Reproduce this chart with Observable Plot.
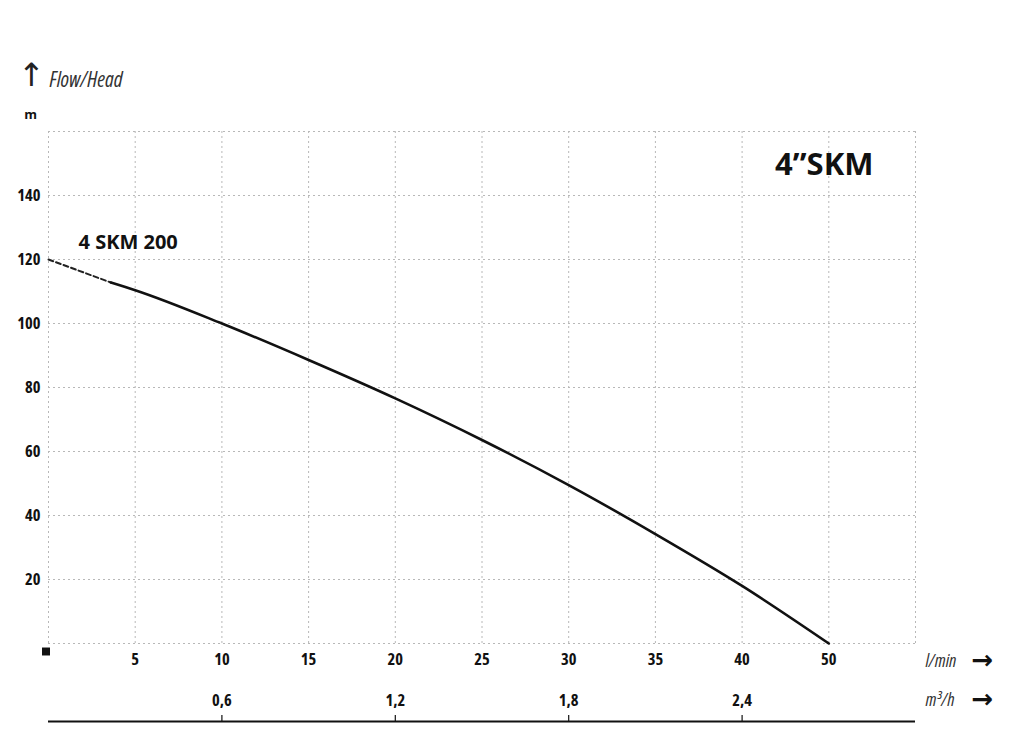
<!DOCTYPE html>
<html>
<head>
<meta charset="utf-8">
<script src="https://cdn.jsdelivr.net/npm/d3@7"></script>
<script src="https://cdn.jsdelivr.net/npm/@observablehq/plot@0.6"></script>
<style>
  html, body { margin: 0; padding: 0; background: #fff; }
  g[aria-description="narrow"] text,
  g[aria-label$="tick label"] text { font-stretch: condensed; }
</style>
</head>
<body>
<div id="chart"></div>
<script>
// Grid positions (l/min scale units)
const xGrid = [0, 5, 10, 15, 20, 25, 30, 35, 40, 45, 50];
const yGrid = [0, 20, 40, 60, 80, 100, 120, 140, 160];
// Axis ticks and labels
const yTicks = [20, 40, 60, 80, 100, 120, 140];
const xTickPos = [5, 10, 15, 20, 25, 30, 35, 40, 45];
const xTickLabels = ["5", "10", "15", "20", "25", "30", "35", "40", "50"];
const m3TickPos = [10, 20, 30, 40];
const m3TickLabels = ["0,6", "1,2", "1,8", "2,4"];

// Curve 4 SKM 200 (flow in grid units, head in m)
const dashedFlow = [0, 3.6];
const dashedHead = [120, 112.8];
const curveFlow = [3.6, 5, 10, 15, 20, 25, 30, 35, 40, 45];
const curveHead = [112.8, 110.4, 100, 88.6, 76.6, 63.6, 49.5, 34.2, 18, 0];
const curveName = "4 SKM 200";
const chartTitle = "4\u201DSKM";

const dashed = dashedFlow.map((x, i) => ({x, y: dashedHead[i]}));
const solid = curveFlow.map((x, i) => ({x, y: curveHead[i]}));

const narrowFont = "'Open Sans', sans-serif";
const gridStyle = {stroke: "#b8b8b8", strokeWidth: 1, strokeDasharray: "2,3"};

const chart = Plot.plot({
  width: 1024,
  height: 745,
  marginLeft: 48,
  marginRight: 109,
  marginTop: 131,
  marginBottom: 102,
  style: {background: "#fff", color: "#111"},
  x: {domain: [0, 50], label: null},
  y: {domain: [0, 160], label: null},
  marks: [
    Plot.ruleX(xGrid, {x: d => d, ...gridStyle}),
    Plot.ruleY(yGrid, {y: d => d, ...gridStyle}),
    Plot.axisY(yTicks, {tickSize: 0, tickPadding: 8, fontSize: 16.5, fontWeight: "bold", fontFamily: narrowFont, label: null}),
    Plot.axisX(xTickPos, {tickSize: 0, tickPadding: 10, fontSize: 16.5, fontWeight: "bold", fontFamily: narrowFont, label: null,
      tickFormat: d => xTickLabels[xTickPos.indexOf(d)]}),
    // second axis (m3/h)
    Plot.text(m3TickPos, {x: d => d, frameAnchor: "bottom", lineAnchor: "middle", dy: 57,
      text: d => m3TickLabels[m3TickPos.indexOf(d)], ariaDescription: "narrow",
      fontSize: 16.5, fontWeight: "bold", fontFamily: narrowFont, fill: "#111"}),
    Plot.tickX(m3TickPos, {x: d => d, dy: 78, insetTop: 745 - 131 - 102 - 6, stroke: "#111", strokeWidth: 1.2}),
    Plot.ruleY([0], {y: d => d, dy: 78, stroke: "#111", strokeWidth: 2}),
    // origin square
    Plot.dot([0], {x: d => d, frameAnchor: "bottom", dx: -2.5, dy: 8, symbol: "square", r: 4.5, fill: "#111", stroke: null}),
    // curve
    Plot.line(dashed, {x: "x", y: "y", stroke: "#222", strokeWidth: 2, strokeDasharray: "5,3"}),
    Plot.line(solid, {x: "x", y: "y", stroke: "#111", strokeWidth: 2.6, curve: "monotone-x"}),
    Plot.text([dashed[0]], {x: "x", y: "y", text: () => curveName, dx: 30, dy: -17, textAnchor: "start",
      fontSize: 20, fontWeight: "bold", fontFamily: "'Open Sans', sans-serif", fill: "#111"}),
    // title
    Plot.text([chartTitle], {text: d => d, frameAnchor: "top-right", lineAnchor: "middle", dx: -42, dy: 34, textAnchor: "end",
      fontSize: 31, fontWeight: "bold", fontFamily: "'Open Sans', sans-serif", fill: "#111"}),
    // Flow/Head heading
    Plot.text(["Flow/Head"], {text: d => d, frameAnchor: "top-left", lineAnchor: "middle", dx: 1, dy: -51, textAnchor: "start",
      ariaDescription: "narrow", fontSize: 21, fontStyle: "italic", fontFamily: narrowFont, fill: "#333"}),
    Plot.text(["\u2191"], {text: d => d, frameAnchor: "top-left", lineAnchor: "middle", dx: -17, dy: -56, textAnchor: "middle",
      fontSize: 32, fontFamily: "'DejaVu Sans', sans-serif", fill: "#222"}),
    Plot.text(["m"], {text: d => d, frameAnchor: "top-left", lineAnchor: "middle", dx: -18, dy: -17, textAnchor: "middle",
      fontSize: 13, fontWeight: "bold", fontFamily: "'Open Sans', sans-serif", fill: "#111"}),
    // unit labels right
    Plot.text(["l/min"], {text: d => d, frameAnchor: "bottom-right", lineAnchor: "middle", dx: 10, dy: 18, textAnchor: "start",
      ariaDescription: "narrow", fontSize: 18, fontStyle: "italic", fontFamily: narrowFont, fill: "#333"}),
    Plot.text(["m\u00B3/h"], {text: d => d, frameAnchor: "bottom-right", lineAnchor: "middle", dx: 10, dy: 57, textAnchor: "start",
      ariaDescription: "narrow", fontSize: 18, fontStyle: "italic", fontFamily: narrowFont, fill: "#333"}),
    Plot.text(["\u2192"], {text: d => d, frameAnchor: "bottom-right", lineAnchor: "middle", dx: 67, dy: 17, textAnchor: "middle",
      fontSize: 26, fontWeight: "bold", fontFamily: "'DejaVu Sans', sans-serif", fill: "#111"}),
    Plot.text(["\u2192"], {text: d => d, frameAnchor: "bottom-right", lineAnchor: "middle", dx: 67, dy: 56, textAnchor: "middle",
      fontSize: 26, fontWeight: "bold", fontFamily: "'DejaVu Sans', sans-serif", fill: "#111"})
  ]
});
document.getElementById("chart").append(chart);
</script>
</body>
</html>
